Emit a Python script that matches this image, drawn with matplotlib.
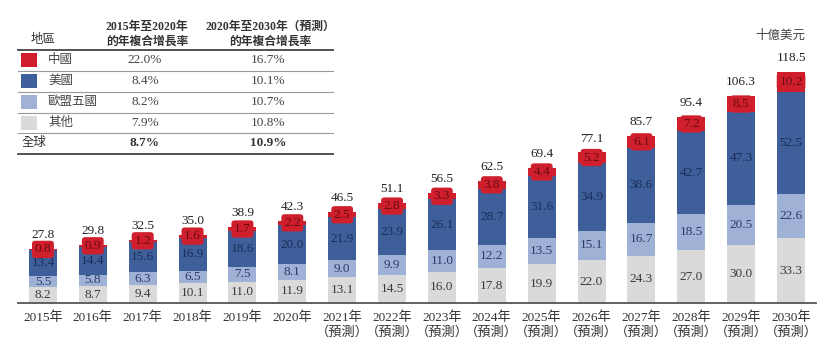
import matplotlib
matplotlib.use("Agg")
import matplotlib.pyplot as plt
from matplotlib.lines import Line2D
from matplotlib.patches import Rectangle
import numpy as np

plt.rcParams['font.family'] = ['Liberation Serif', 'Noto Sans CJK TC']

years = ["2015年", "2016年", "2017年", "2018年", "2019年", "2020年",
         "2021年\n（預測）", "2022年\n（預測）", "2023年\n（預測）", "2024年\n（預測）",
         "2025年\n（預測）", "2026年\n（預測）", "2027年\n（預測）", "2028年\n（預測）",
         "2029年\n（預測）", "2030年\n（預測）"]
others = [8.2, 8.7, 9.4, 10.1, 11.0, 11.9, 13.1, 14.5, 16.0, 17.8, 19.9, 22.0, 24.3, 27.0, 30.0, 33.3]
eu5 = [5.5, 5.8, 6.3, 6.5, 7.5, 8.1, 9.0, 9.9, 11.0, 12.2, 13.5, 15.1, 16.7, 18.5, 20.5, 22.6]
usa = [13.4, 14.4, 15.6, 16.9, 18.6, 20.0, 21.9, 23.9, 26.1, 28.7, 31.6, 34.9, 38.6, 42.7, 47.3, 52.5]
china = [0.8, 0.9, 1.2, 1.6, 1.7, 2.2, 2.5, 2.8, 3.3, 3.8, 4.4, 5.2, 6.1, 7.2, 8.5, 10.2]
totals = [27.8, 29.8, 32.5, 35.0, 38.9, 42.3, 46.5, 51.1, 56.5, 62.5, 69.4, 77.1, 85.7, 95.4, 106.3, 118.5]

regions = ["中國", "美國", "歐盟五國", "其他"]
cagr_15_20 = ["22.0%", "8.4%", "8.2%", "7.9%"]
cagr_20_30 = ["16.7%", "10.1%", "10.7%", "10.8%"]
global_label = "全球"
global_15_20 = "8.7%"
global_20_30 = "10.9%"
unit_label = "十億美元"

C_RED = "#cf1f2c"
C_DBLUE = "#3f5f9a"
C_LBLUE = "#9fb1d5"
C_GRAY = "#dadada"
colors = [C_RED, C_DBLUE, C_LBLUE, C_GRAY]

W, H = 832, 356
fig = plt.figure(figsize=(W / 100, H / 100), dpi=100)

def fx(px):
    return px / W

def fy(py):
    return 1 - py / H

ax = fig.add_axes([fx(18), fy(303), fx(816) - fx(18), fy(49.5) - fy(303)])
x = np.arange(len(years))
bw = 0.56
others_a = np.array(others)
eu_a = np.array(eu5)
us_a = np.array(usa)
cn_a = np.array(china)

ax.bar(x, others_a, bw, color=C_GRAY, linewidth=0)
ax.bar(x, eu_a, bw, bottom=others_a, color=C_LBLUE, linewidth=0)
ax.bar(x, us_a, bw, bottom=others_a + eu_a, color=C_DBLUE, linewidth=0)
ax.bar(x, cn_a, bw, bottom=others_a + eu_a + us_a, color=C_RED, linewidth=0)

FS = 9.5
for i in range(len(x)):
    ax.text(x[i], others_a[i] / 2, f"{others[i]:.1f}", ha='center', va='center',
            fontsize=FS, color='#3a3a3a')
    ax.text(x[i], others_a[i] + eu_a[i] / 2, f"{eu5[i]:.1f}", ha='center', va='center',
            fontsize=FS, color='#2a3d6a')
    ax.text(x[i], others_a[i] + eu_a[i] + us_a[i] / 2, f"{usa[i]:.1f}", ha='center', va='center',
            fontsize=FS, color='#1b2e5a')
    top = others_a[i] + eu_a[i] + us_a[i]
    ax.text(x[i], top + cn_a[i] / 2, f"{china[i]:.1f}", ha='center', va='center',
            fontsize=FS, color='#6a0c12',
            bbox=dict(boxstyle='round,pad=0.2,rounding_size=0.25', fc=C_RED, ec='none'))
    ax.annotate(f"{totals[i]:.1f}", (x[i], top + cn_a[i]), xytext=(0, 10),
                textcoords='offset points', ha='center', va='center', fontsize=FS, color='#222222')

ax.set_xlim(-0.5, len(x) - 0.5)
ax.set_ylim(0, 130)
ax.set_xticks(x)
ax.set_xticklabels(years, fontsize=9.5, color='#333333', linespacing=1.2)
ax.tick_params(axis='x', length=0, pad=6)
ax.set_yticks([])
for s in ['top', 'left', 'right']:
    ax.spines[s].set_visible(False)
ax.spines['bottom'].set_color('#555555')
ax.spines['bottom'].set_linewidth(1.3)

# unit label
fig.text(fx(780), fy(36), unit_label, ha='center', va='center', fontsize=9,
         color='#444444', style='italic')

# table
hdr_kw = dict(fontsize=8.5, fontweight='bold', color='#333333', ha='center', va='center',
              linespacing=1.3)
fig.text(fx(43), fy(40), "地區", fontsize=9, color='#333333', ha='center', va='center')
fig.text(fx(147), fy(34), "2015年至2020年\n的年複合增長率", **hdr_kw)
fig.text(fx(270), fy(34), "2020年至2030年（預測）\n的年複合增長率", **hdr_kw)

line_ys = [50, 71, 92, 113, 133, 154]
for k, ly in enumerate(line_ys):
    dark = k in (0, 5)
    fig.add_artist(Line2D([fx(18), fx(333)], [fy(ly), fy(ly)], transform=fig.transFigure,
                          color='#444444' if dark else '#9a9a9a',
                          linewidth=1.3 if dark else 0.8))

row_ys = [60, 81, 102, 123]
for r in range(4):
    ry = row_ys[r]
    fig.add_artist(Rectangle((fx(21), fy(ry + 7)), fx(37) - fx(21), fy(ry - 7) - fy(ry + 7),
                             transform=fig.transFigure, facecolor=colors[r], edgecolor='none'))
    fig.text(fx(48), fy(ry), regions[r], fontsize=9, color='#444444', ha='left', va='center')
    fig.text(fx(145), fy(ry), cagr_15_20[r], fontsize=9.5, color='#444444', ha='center', va='center')
    fig.text(fx(268), fy(ry), cagr_20_30[r], fontsize=9.5, color='#444444', ha='center', va='center')

fig.text(fx(22), fy(143), global_label, fontsize=9, color='#333333', ha='left', va='center')
fig.text(fx(145), fy(143), global_15_20, fontsize=9.5, fontweight='bold', color='#333333',
         ha='center', va='center')
fig.text(fx(268), fy(143), global_20_30, fontsize=9.5, fontweight='bold', color='#333333',
         ha='center', va='center')

fig.savefig("out.png", dpi=100)
